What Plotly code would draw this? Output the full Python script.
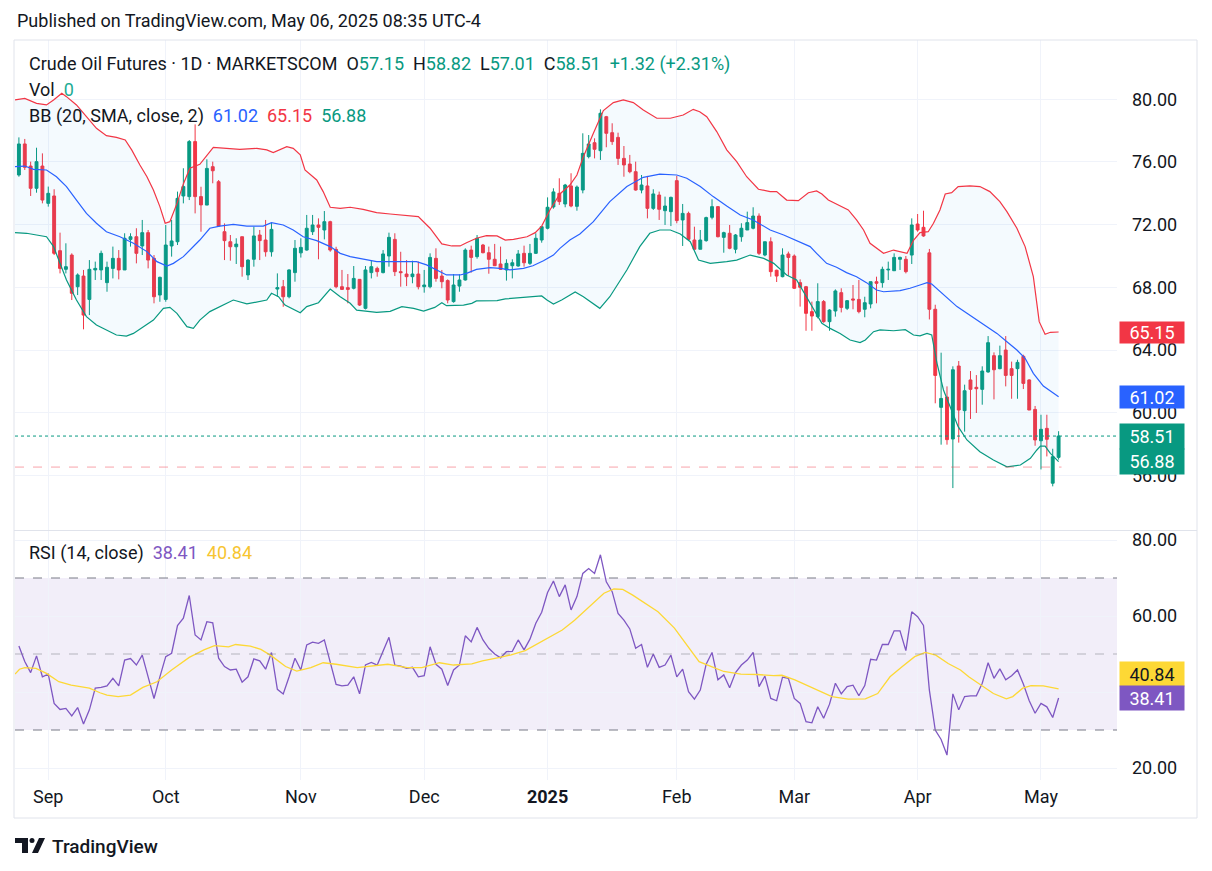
import plotly.graph_objects as go

# ---------------- DATA ----------------
# bar index 0 .. 177 (daily bars, late Aug 2024 -> May 6 2025)
opens = [
    75.17, 77.15, 75.74, 74.32, 75.74, 73.36, 73.83, 70.34, 69.15, 70.06,
    68.04, 68.72, 67.23, 69.11, 69.11, 68.30, 69.21, 69.85, 69.11, 71.06,
    71.23, 70.64, 71.49, 69.85, 67.51, 67.23, 70.64, 70.91, 73.83, 73.79,
    77.30, 73.79, 73.25, 75.70, 74.74, 71.55, 70.91, 70.59, 71.23, 68.79,
    69.79, 71.34, 71.02, 70.27, 67.89, 68.04, 67.40, 68.94, 70.20, 70.38,
    71.55, 71.98, 71.66, 72.19, 70.42, 68.04, 67.98, 67.94, 68.51, 66.66,
    68.94, 69.21, 68.94, 70.00, 71.06, 69.00, 68.85, 68.68, 68.85, 68.04,
    68.04, 69.85, 68.72, 68.43, 67.09, 68.08, 68.47, 70.38, 69.96, 70.70,
    70.21, 69.79, 69.49, 69.11, 69.38, 69.36, 70.17, 69.53, 70.17, 71.02,
    71.77, 73.13, 74.00, 73.32, 74.47, 73.17, 74.21, 76.34, 77.23, 76.72,
    78.89, 77.87, 77.57, 76.23, 75.87, 75.38, 74.21, 74.47, 73.04, 73.89,
    72.89, 72.83, 74.81, 72.30, 72.72, 71.02, 70.43, 70.98, 72.47, 73.15,
    71.19, 71.45, 70.43, 71.23, 71.66, 71.77, 72.55, 70.06, 70.91, 69.09,
    68.68, 70.13, 70.00, 68.30, 68.04, 66.45, 66.13, 67.09, 65.81, 66.49,
    67.66, 66.66, 67.26, 67.23, 66.60, 66.94, 68.36, 68.30, 69.11, 69.06,
    69.79, 69.79, 70.06, 72.04, 71.83, 70.20, 66.60, 60.34, 61.00, 58.32,
    62.98, 60.13, 62.09, 61.62, 61.49, 62.60, 63.64, 62.81, 64.00, 62.81,
    62.81, 63.60, 62.09, 60.21, 58.21, 59.00, 55.50, 57.15,
]
highs = [
    77.57, 77.47, 76.02, 76.91, 76.55, 74.43, 74.26, 71.49, 70.81, 70.17,
    68.89, 69.11, 69.74, 69.64, 70.34, 69.64, 70.60, 70.38, 71.45, 71.45,
    71.77, 72.30, 71.66, 70.06, 68.68, 71.98, 72.30, 74.11, 75.60, 77.40,
    78.40, 74.42, 76.17, 76.02, 74.85, 72.08, 71.34, 71.13, 71.23, 69.79,
    71.87, 71.66, 72.30, 72.13, 68.89, 68.47, 69.15, 71.02, 71.13, 72.62,
    72.62, 72.40, 72.87, 72.25, 70.59, 69.11, 68.85, 69.36, 68.53, 69.36,
    69.74, 69.32, 70.38, 71.49, 71.45, 70.27, 69.74, 69.70, 69.64, 69.11,
    70.17, 70.49, 69.11, 68.51, 68.85, 68.83, 70.49, 70.66, 71.34, 70.77,
    70.60, 70.77, 70.60, 69.79, 69.79, 70.38, 70.66, 70.77, 71.45, 71.91,
    73.74, 74.32, 74.96, 74.60, 75.28, 74.50, 77.83, 77.72, 77.51, 79.36,
    78.94, 78.47, 77.87, 77.02, 76.45, 76.02, 75.17, 75.11, 74.26, 74.11,
    73.79, 73.79, 75.11, 73.32, 72.83, 71.87, 71.66, 72.51, 73.62, 73.19,
    71.55, 71.98, 71.40, 72.09, 72.83, 73.11, 72.72, 70.91, 71.19, 69.13,
    70.49, 70.28, 70.10, 68.51, 68.09, 67.09, 68.26, 67.19, 66.60, 67.87,
    67.94, 67.19, 68.15, 68.47, 67.40, 68.36, 68.68, 69.32, 69.64, 70.17,
    69.96, 70.00, 72.40, 72.68, 72.89, 70.45, 66.89, 63.83, 61.68, 62.96,
    63.30, 61.79, 62.66, 62.40, 62.96, 64.89, 63.85, 64.28, 64.89, 63.26,
    63.38, 63.70, 62.13, 60.43, 59.87, 59.87, 57.70, 58.82,
]
lows = [
    75.06, 75.49, 73.83, 74.04, 73.36, 73.15, 70.06, 68.89, 68.89, 67.19,
    67.51, 65.32, 66.23, 68.47, 68.47, 67.72, 68.57, 68.51, 69.11, 70.60,
    69.53, 70.06, 69.21, 66.98, 67.08, 67.08, 69.96, 70.70, 73.36, 73.57,
    72.72, 71.55, 73.25, 74.64, 71.87, 69.74, 69.70, 69.49, 68.68, 68.47,
    69.32, 69.74, 69.96, 69.96, 67.40, 66.76, 67.30, 68.36, 69.90, 70.34,
    71.34, 69.79, 71.06, 70.27, 67.94, 67.83, 66.98, 67.87, 66.81, 66.59,
    68.57, 68.68, 68.89, 69.32, 68.72, 68.04, 68.08, 68.26, 67.87, 67.66,
    67.94, 68.36, 67.94, 66.98, 67.02, 67.72, 68.43, 68.94, 69.83, 70.17,
    68.87, 69.36, 69.11, 68.43, 68.57, 69.32, 69.32, 69.43, 70.13, 70.85,
    71.70, 73.02, 73.26, 73.11, 73.11, 72.89, 74.00, 76.23, 76.23, 76.13,
    76.94, 77.09, 75.81, 75.06, 75.28, 74.17, 74.00, 72.40, 72.94, 72.30,
    71.98, 71.91, 72.09, 70.64, 70.98, 70.43, 70.43, 70.91, 72.34, 71.19,
    70.21, 70.43, 70.17, 70.91, 71.66, 71.70, 70.06, 69.98, 68.68, 68.34,
    68.64, 68.74, 67.90, 66.77, 65.23, 65.23, 66.02, 65.74, 65.23, 66.13,
    66.40, 66.55, 66.60, 66.34, 66.09, 66.66, 66.98, 67.98, 68.47, 69.06,
    69.11, 68.89, 69.49, 71.55, 71.23, 65.95, 60.60, 57.96, 57.96, 55.19,
    58.09, 58.79, 59.60, 59.98, 60.51, 62.55, 60.85, 62.77, 61.68, 60.89,
    60.89, 61.51, 60.17, 57.89, 56.38, 57.21, 55.30, 57.01,
]
closes = [
    77.15, 75.66, 74.32, 76.02, 73.57, 74.00, 70.17, 69.21, 69.32, 67.62,
    68.79, 66.23, 69.15, 69.21, 70.17, 69.28, 69.85, 69.11, 71.13, 71.23,
    70.17, 71.49, 69.74, 67.40, 68.64, 70.70, 70.96, 73.68, 74.43, 77.30,
    73.79, 73.26, 75.59, 75.44, 71.91, 70.98, 70.59, 70.76, 69.32, 69.74,
    71.28, 70.98, 70.27, 71.70, 67.98, 67.40, 69.11, 70.49, 70.55, 71.77,
    71.98, 71.83, 72.19, 70.38, 68.04, 67.87, 67.87, 68.57, 66.87, 69.11,
    69.32, 69.00, 70.13, 71.19, 69.00, 68.94, 68.68, 68.85, 68.04, 68.15,
    69.91, 68.57, 68.36, 67.19, 68.15, 68.47, 70.38, 69.91, 71.13, 70.21,
    69.79, 69.38, 69.15, 69.53, 69.57, 70.13, 69.57, 70.17, 71.13, 71.87,
    73.11, 74.09, 73.47, 74.53, 73.19, 74.40, 76.55, 77.15, 76.81, 79.11,
    77.83, 77.30, 76.23, 75.81, 75.38, 74.21, 74.53, 73.04, 73.96, 72.98,
    73.19, 73.74, 72.26, 72.72, 71.06, 70.43, 71.02, 72.45, 73.15, 71.23,
    71.49, 70.49, 71.34, 71.77, 72.13, 72.55, 70.17, 70.91, 69.00, 68.72,
    70.06, 69.91, 67.94, 68.00, 66.34, 66.17, 67.09, 65.81, 66.55, 67.77,
    66.72, 67.15, 67.19, 66.45, 67.02, 68.36, 68.26, 69.15, 69.15, 69.91,
    69.91, 69.00, 71.98, 71.66, 71.28, 66.60, 62.38, 60.91, 58.28, 62.74,
    60.17, 61.40, 61.49, 61.53, 62.66, 64.47, 62.74, 63.64, 62.38, 62.38,
    63.21, 61.87, 60.17, 58.26, 58.94, 58.30, 57.19, 58.51,
]

# time-axis labels (bar index of first bar of each month)
month_ticks = [5, 25, 48, 69, 90, 112, 132, 153, 174]
month_labels = ["Sep", "Oct", "Nov", "Dec", "<b>2025</b>", "Feb", "Mar", "Apr", "May"]

# Bollinger bands (20, SMA, close, 2) read as (bar position, value)
bb_upper_pts = [(-0.66, 79.96), (1.0, 80.06), (3.0, 79.74), (4.7, 79.64), (5.9, 79.96), (7.3, 80.38), (8.1, 80.17), (9.8, 79.64), (11.5, 78.89), (13.2, 78.15), (14.9, 77.68), (16.6, 77.57), (18.1, 77.4), (19.2, 76.77), (20.6, 75.81), (21.8, 75.06), (22.9, 74.21), (24.0, 73.15), (24.9, 72.09), (25.7, 72.19), (26.9, 73.34), (28.0, 74.6), (29.1, 75.6), (30.8, 75.85), (33.1, 76.93), (34.8, 76.87), (37.6, 76.81), (40.5, 76.87), (42.2, 76.77), (43.3, 76.6), (45.6, 76.98), (46.7, 76.87), (47.9, 76.45), (48.7, 75.49), (50.7, 74.85), (51.8, 74.11), (53.0, 73.11), (54.7, 73.04), (56.4, 73.11), (58.6, 72.98), (60.9, 72.77), (63.2, 72.68), (64.9, 72.62), (68.0, 72.51), (70.0, 71.77), (72.0, 70.77), (73.7, 70.64), (75.1, 70.64), (76.2, 70.85), (77.9, 71.13), (79.6, 71.3), (81.4, 71.28), (82.8, 71.02), (84.2, 71.06), (86.5, 71.23), (87.9, 71.49), (89.0, 71.91), (90.4, 72.94), (92.1, 73.96), (93.8, 74.53), (95.0, 75.17), (96.1, 76.34), (97.8, 77.83), (99.5, 79.28), (101.2, 79.79), (102.9, 79.96), (104.6, 79.79), (106.3, 79.32), (108.6, 78.79), (110.9, 78.79), (113.1, 79.0), (114.8, 79.36), (115.9, 79.21), (117.1, 78.89), (118.8, 77.94), (120.5, 76.77), (122.2, 76.02), (123.9, 75.06), (125.9, 74.26), (127.9, 74.11), (129.0, 74.11), (130.7, 73.57), (132.7, 73.53), (134.4, 74.04), (135.8, 74.15), (136.7, 73.96), (137.8, 73.57), (139.8, 73.19), (141.2, 72.94), (142.6, 72.3), (143.8, 71.66), (144.9, 70.81), (146.0, 70.49), (147.2, 70.17), (148.9, 70.38), (150.0, 70.28), (151.2, 70.17), (152.3, 71.0), (153.4, 71.49), (154.8, 71.55), (155.7, 72.09), (156.8, 72.94), (157.7, 73.96), (158.8, 74.04), (159.9, 74.43), (161.9, 74.47), (163.6, 74.43), (165.3, 74.11), (167.0, 73.47), (168.2, 72.83), (169.9, 71.77), (171.3, 70.6), (172.7, 68.68), (173.7, 65.81), (174.7, 65.0), (175.6, 65.13), (177.0, 65.15)]
bb_mid_pts = [(-0.66, 75.7), (1.0, 75.74), (2.5, 75.53), (4.7, 75.49), (6.4, 75.06), (8.1, 74.43), (9.8, 73.57), (11.5, 72.72), (13.2, 72.09), (14.9, 71.55), (17.2, 71.23), (19.5, 70.81), (21.8, 70.28), (23.5, 69.64), (25.2, 69.36), (26.3, 69.53), (28.0, 69.96), (29.4, 70.5), (30.8, 71.02), (32.5, 71.77), (34.2, 71.91), (36.5, 72.02), (38.8, 71.91), (41.6, 71.91), (43.0, 72.13), (45.0, 71.98), (46.7, 71.66), (48.4, 71.23), (50.7, 70.98), (53.0, 70.6), (54.7, 70.17), (56.4, 69.96), (58.6, 69.79), (60.9, 69.64), (63.2, 69.64), (65.5, 69.64), (67.7, 69.64), (69.4, 69.43), (71.1, 69.11), (72.8, 68.79), (75.1, 68.79), (76.2, 68.89), (77.9, 69.15), (80.2, 69.26), (81.9, 69.21), (83.6, 69.11), (85.9, 69.21), (87.5, 69.38), (89.3, 69.7), (91.0, 70.06), (92.1, 70.49), (93.8, 71.02), (95.5, 71.4), (97.8, 72.19), (100.6, 73.47), (103.5, 74.43), (106.3, 75.02), (109.1, 75.23), (112.0, 75.17), (113.7, 74.96), (116.0, 74.43), (118.2, 73.79), (120.5, 73.19), (122.8, 72.62), (125.0, 72.3), (127.9, 71.66), (130.2, 71.34), (132.4, 70.98), (134.7, 70.6), (135.8, 70.17), (137.5, 69.53), (139.2, 69.28), (140.9, 68.94), (142.6, 68.68), (144.3, 68.3), (146.0, 67.83), (147.2, 67.72), (150.0, 67.79), (151.7, 67.94), (153.4, 68.15), (154.6, 68.3), (155.4, 68.21), (157.4, 67.51), (159.7, 66.77), (161.4, 66.34), (164.2, 65.66), (166.5, 65.06), (168.2, 64.53), (169.9, 64.0), (171.3, 63.47), (172.7, 62.51), (174.4, 61.7), (177.0, 61.02)]
bb_lower_pts = [(-0.66, 71.49), (1.3, 71.45), (3.0, 71.34), (4.7, 71.23), (5.9, 70.6), (7.0, 69.53), (8.1, 68.47), (9.8, 67.19), (11.5, 66.13), (13.2, 65.6), (14.9, 65.28), (16.6, 64.96), (18.3, 64.89), (19.5, 65.06), (21.2, 65.49), (22.9, 65.91), (24.6, 66.66), (25.7, 66.72), (26.9, 66.34), (28.6, 65.49), (29.7, 65.38), (30.8, 65.91), (32.5, 66.45), (34.8, 66.87), (36.5, 67.19), (38.8, 66.94), (41.05, 67.09), (42.2, 67.19), (43.0, 67.62), (44.2, 67.4), (45.3, 66.87), (47.9, 66.38), (49.0, 66.77), (51.0, 67.02), (53.0, 67.89), (54.7, 67.4), (56.4, 66.98), (57.5, 66.55), (60.9, 66.4), (63.2, 66.47), (65.2, 66.77), (67.2, 66.66), (68.9, 66.49), (70.8, 66.72), (72.0, 67.02), (72.8, 66.83), (75.7, 66.87), (77.1, 66.98), (77.9, 67.13), (81.4, 67.15), (82.8, 67.26), (85.3, 67.34), (87.6, 67.4), (89.0, 67.45), (89.9, 67.19), (91.0, 66.94), (92.4, 67.19), (93.8, 67.51), (94.7, 67.7), (96.1, 67.4), (98.9, 66.66), (100.6, 67.4), (103.5, 69.11), (105.7, 70.6), (107.4, 71.45), (109.1, 71.66), (110.9, 71.66), (112.6, 71.4), (114.3, 70.91), (115.7, 69.74), (117.7, 69.53), (120.5, 69.64), (122.2, 69.74), (124.5, 70.06), (126.8, 69.85), (128.5, 69.53), (130.7, 68.79), (132.4, 68.47), (134.1, 67.4), (135.8, 66.34), (136.7, 65.7), (138.1, 65.38), (139.8, 65.06), (141.5, 64.64), (143.2, 64.47), (144.1, 64.64), (145.5, 65.17), (146.6, 65.28), (148.9, 65.23), (150.9, 65.3), (152.3, 64.96), (153.4, 64.9), (154.6, 65.06), (155.4, 64.96), (156.3, 63.15), (157.4, 61.45), (158.5, 60.38), (159.9, 59.11), (161.4, 58.26), (163.6, 57.51), (165.9, 56.98), (168.2, 56.55), (170.5, 56.66), (172.2, 57.09), (173.3, 57.62), (173.9, 57.87), (174.7, 57.87), (175.6, 57.4), (177.0, 56.88)]

# RSI (14, close), one value per bar
rsi = [
    52.1, 48.0, 45.1, 49.5, 44.0, 44.7, 37.0, 35.4, 35.7, 33.7,
    35.9, 31.6, 35.3, 41.0, 41.2, 41.6, 43.6, 41.6, 48.4, 48.8,
    47.1, 49.7, 44.0, 38.3, 44.0, 49.3, 50.2, 57.5, 59.4, 65.4,
    55.0, 53.7, 58.5, 58.2, 48.9, 46.7, 45.8, 46.0, 42.6, 44.0,
    48.7, 48.2, 46.0, 50.4, 40.7, 39.5, 44.0, 48.9, 45.8, 52.4,
    53.1, 52.8, 53.7, 47.7, 42.0, 41.6, 41.8, 44.0, 39.5, 47.1,
    47.8, 47.1, 50.6, 54.4, 47.1, 46.8, 46.2, 46.5, 44.0, 44.3,
    51.9, 47.3, 46.0, 41.7, 45.8, 47.1, 54.8, 53.2, 57.0, 53.7,
    51.5, 50.0, 49.0, 50.6, 50.7, 53.7, 51.1, 53.9, 58.1, 61.0,
    66.2, 69.2, 65.1, 68.2, 61.6, 65.1, 71.2, 72.5, 71.2, 76.1,
    69.0, 66.4, 60.7, 58.9, 56.6, 51.5, 52.5, 46.5, 50.0, 46.5,
    47.1, 49.7, 44.0, 46.0, 40.1, 38.1, 40.5, 47.3, 50.4, 43.2,
    44.5, 41.1, 45.1, 47.1, 48.4, 50.4, 41.4, 44.2, 38.3, 37.7,
    43.9, 43.6, 38.3, 37.0, 32.2, 31.9, 36.1, 33.1, 36.8, 42.3,
    39.5, 41.4, 41.8, 39.0, 41.7, 48.6, 48.4, 52.5, 52.5, 56.1,
    56.1, 50.9, 61.1, 59.8, 57.5, 40.5, 30.0, 27.5, 23.4, 39.5,
    35.3, 38.8, 39.0, 39.0, 42.3, 47.7, 43.6, 46.1, 43.2, 44.3,
    45.8, 42.1, 37.7, 34.4, 37.0, 36.1, 33.3, 38.41,
]
# RSI-based moving average, read as (bar position, value)
rsi_ma_x = [-0.66, 0.1, 1.0, 2.9, 4.7, 6.8, 8.9, 12.0, 13.8, 15.0, 16.9, 19.0, 21.1, 23.5, 26.0, 29.0, 31.5, 33.3, 35.7, 36.9, 39.4, 41.2, 43.0, 45.4, 47.3, 49.7, 51.8, 54.0, 57.6, 60.0, 62.8, 66.1, 68.6, 71.6, 74.0, 77.1, 78.9, 81.9, 83.8, 86.2, 88.6, 90.4, 92.5, 94.6, 97.5, 99.6, 101.3, 102.8, 104.5, 107.0, 108.8, 111.6, 113.7, 115.8, 117.9, 120.0, 122.9, 125.7, 128.5, 129.9, 132.1, 135.6, 138.4, 141.2, 144.1, 146.2, 148.3, 150.4, 152.5, 154.3, 156.1, 158.2, 160.3, 161.7, 163.8, 165.9, 168.1, 169.2, 170.9, 172.3, 174.4, 177.0]
rsi_ma = [44.7, 46.0, 46.4, 46.2, 44.9, 42.7, 41.8, 41.0, 39.8, 39.2, 38.8, 39.2, 41.2, 42.7, 45.8, 49.1, 51.1, 52.2, 51.9, 52.5, 52.1, 51.2, 49.5, 46.7, 45.5, 46.4, 47.7, 47.3, 46.4, 46.9, 47.3, 46.4, 46.4, 47.7, 47.1, 47.4, 48.2, 49.1, 49.8, 50.9, 53.0, 54.5, 56.3, 58.9, 62.9, 66.0, 67.1, 67.0, 65.5, 62.9, 61.1, 56.8, 52.4, 48.0, 46.7, 45.4, 44.7, 44.6, 44.3, 44.4, 43.2, 40.7, 38.8, 38.1, 38.2, 39.6, 44.0, 46.7, 49.3, 50.4, 49.7, 47.5, 45.8, 44.0, 41.7, 39.6, 38.2, 38.8, 41.0, 41.7, 41.6, 40.84]

price_ticks = [56, 60, 64, 68, 72, 76, 80]
rsi_ticks = [20, 40, 60, 80]
rsi_tick_text = ["20.00", "", "60.00", "80.00"]   # 40.00 is hidden behind the value tags
session_line_level = 56.53

# ---------------- LAYOUT HELPERS ----------------
W, H = 1212, 871
ML, MR, MT, MB = 15, 95, 40, 91
PW, PH = W - ML - MR, H - MT - MB


def xp(px):
    return (px - ML) / PW


def yp(py):
    return (H - MB - py) / PH


UP = "#089981"
DOWN = "#f23645"
BLUE = "#2962ff"
PURPLE = "#7e57c2"
YELLOW = "#fdd835"
TEXT = "#131722"
GRID = "#f0f3fa"
FONT = "Roboto, 'Noto Sans', Arial, sans-serif"
FS = 18

bars = list(range(len(closes)))
ux, uy = zip(*bb_upper_pts)
mx, my = zip(*bb_mid_pts)
lx, ly = zip(*bb_lower_pts)

fig = go.Figure()

# BB background fill
fig.add_trace(go.Scatter(x=list(ux) + list(lx)[::-1], y=list(uy) + list(ly)[::-1],
                         fill="toself", fillcolor="rgba(33,150,243,0.05)", mode="lines",
                         line=dict(width=0), yaxis="y2", hoverinfo="skip"))
fig.add_trace(go.Scatter(x=ux, y=uy, mode="lines", line=dict(color=DOWN, width=1.2), yaxis="y2"))
fig.add_trace(go.Scatter(x=mx, y=my, mode="lines", line=dict(color=BLUE, width=1.2), yaxis="y2"))
fig.add_trace(go.Scatter(x=lx, y=ly, mode="lines", line=dict(color=UP, width=1.2), yaxis="y2"))

fig.add_trace(go.Candlestick(
    x=bars, open=opens, high=highs, low=lows, close=closes, yaxis="y2",
    increasing=dict(line=dict(color=UP, width=1), fillcolor=UP),
    decreasing=dict(line=dict(color=DOWN, width=1), fillcolor=DOWN),
    whiskerwidth=0))

# RSI pane
fig.add_trace(go.Scatter(x=bars, y=rsi, mode="lines", line=dict(color=PURPLE, width=1.3), yaxis="y"))
fig.add_trace(go.Scatter(x=rsi_ma_x, y=rsi_ma, mode="lines", line=dict(color=YELLOW, width=1.3), yaxis="y"))

x_lo = (ML - 18.9) / 5.874
x_hi = (W - MR - 18.9) / 5.874
price_lo = 80 - (530 - 99.3) / 15.67
price_hi = 80 + (99.3 - 40) / 15.67
rsi_lo = 80 - (780 - 540) / 3.8
rsi_hi = 80 + (540 - 531) / 3.8

axis_font = dict(family=FONT, size=FS, color=TEXT)

fig.update_layout(
    width=W, height=H,
    margin=dict(l=ML, r=MR, t=MT, b=MB),
    paper_bgcolor="white", plot_bgcolor="white",
    showlegend=False, hovermode=False,
    xaxis=dict(range=[x_lo, x_hi], tickvals=month_ticks, ticktext=month_labels,
               showgrid=True, gridcolor=GRID, zeroline=False, showline=False,
               ticks="", tickfont=axis_font, rangeslider=dict(visible=False),
               anchor="y", fixedrange=True, ticklabelstandoff=4),
    yaxis=dict(domain=[0, yp(531)], range=[rsi_lo, rsi_hi], side="right",
               tickvals=rsi_ticks, ticktext=rsi_tick_text,
               showgrid=True, gridcolor=GRID, zeroline=False, showline=False,
               ticks="", tickfont=axis_font, ticklabelstandoff=14, anchor="x"),
    yaxis2=dict(domain=[yp(530), 1], range=[price_lo, price_hi], side="right",
                tickvals=price_ticks, ticktext=[f"{v:.2f}" for v in price_ticks],
                showgrid=True, gridcolor=GRID, zeroline=False, showline=False,
                ticks="", tickfont=axis_font, ticklabelstandoff=14, anchor="x"),
)

shapes = []
# RSI band
shapes.append(dict(type="rect", xref="paper", yref="y", x0=0, x1=1, y0=30, y1=70,
                   fillcolor="rgba(126,87,194,0.1)", line=dict(width=0), layer="below"))
for lvl, col in [(70, "#787b86"), (30, "#787b86"), (50, "rgba(120,123,134,0.5)")]:
    shapes.append(dict(type="line", xref="paper", yref="y", x0=0, x1=1, y0=lvl, y1=lvl,
                       line=dict(color=col, width=1, dash="dash")))
# last close dotted line
shapes.append(dict(type="line", xref="paper", yref="y2", x0=0, x1=1, y0=closes[-1], y1=closes[-1],
                   line=dict(color=UP, width=1, dash="dot")))
# session line
shapes.append(dict(type="line", xref="x", yref="y2", x0=x_lo, x1=len(closes) - 0.5,
                   y0=session_line_level, y1=session_line_level,
                   line=dict(color="rgba(242,54,69,0.45)", width=1, dash="dash")))
# pane separator and frame
shapes.append(dict(type="line", xref="paper", yref="paper", x0=xp(14), x1=xp(1197), y0=yp(530.5), y1=yp(530.5),
                   line=dict(color="#e0e3eb", width=1)))
shapes.append(dict(type="rect", xref="paper", yref="paper", x0=xp(14), x1=xp(1197), y0=yp(818), y1=yp(40),
                   line=dict(color="#e0e3eb", width=1), fillcolor="rgba(0,0,0,0)"))
# TradingView logo
shapes.append(dict(type="path", xref="paper", yref="paper",
                   path=f"M {xp(15)} {yp(838)} L {xp(28)} {yp(838)} L {xp(28)} {yp(853)} L {xp(22)} {yp(853)} "
                        f"L {xp(22)} {yp(843)} L {xp(15)} {yp(843)} Z",
                   fillcolor=TEXT, line=dict(width=0)))
shapes.append(dict(type="circle", xref="paper", yref="paper", x0=xp(29.5), x1=xp(34.5), y0=yp(843), y1=yp(838),
                   fillcolor=TEXT, line=dict(width=0)))
shapes.append(dict(type="path", xref="paper", yref="paper",
                   path=f"M {xp(32)} {yp(853)} L {xp(38)} {yp(853)} L {xp(45)} {yp(838)} L {xp(39)} {yp(838)} Z",
                   fillcolor=TEXT, line=dict(width=0)))
fig.update_layout(shapes=shapes)

NB = "\u00a0"


def col(txt, c):
    return f"<span style='color:{c}'>{txt}</span>"


chg = closes[-1] - closes[-2]
pct = chg / closes[-2] * 100
line1 = ("Crude Oil Futures · 1D · MARKETSCOM" + NB * 2 +
         "O" + col(f"{opens[-1]:.2f}", UP) + NB * 2 +
         "H" + col(f"{highs[-1]:.2f}", UP) + NB * 2 +
         "L" + col(f"{lows[-1]:.2f}", UP) + NB * 2 +
         "C" + col(f"{closes[-1]:.2f}", UP) + NB * 2 +
         col(f"{chg:+.2f} ({pct:+.2f}%)", UP))
line2 = "Vol" + NB * 2 + col("0", "#22ab94")
line3 = ("BB (20, SMA, close, 2)" + NB * 2 + col(f"{my[-1]:.2f}", BLUE) + NB * 2 +
         col(f"{uy[-1]:.2f}", DOWN) + NB * 2 + col(f"{ly[-1]:.2f}", UP))
line4 = ("RSI (14, close)" + NB * 2 + col(f"{rsi[-1]:.2f}", PURPLE) + NB * 2 +
         col(f"{rsi_ma[-1]:.2f}", "#f7c531"))

ann = []
leg_font = dict(family=FONT, size=FS, color=TEXT)
ann.append(dict(text="Published on TradingView.com, May 06, 2025 08:35 UTC-4", x=xp(15), y=yp(20),
                xref="paper", yref="paper", xanchor="left", yanchor="middle", showarrow=False,
                font=dict(family=FONT, size=FS, color=TEXT)))
for txt, py in [(line1, 64), (line2, 89), (line3, 116), (line4, 553)]:
    ann.append(dict(text=txt, x=xp(27), y=yp(py), xref="paper", yref="paper", xanchor="left",
                    yanchor="middle", showarrow=False, font=leg_font))
ann.append(dict(text="TradingView", x=xp(50), y=yp(846), xref="paper", yref="paper", xanchor="left",
                yanchor="middle", showarrow=False, font=dict(family=FONT, size=19, color=TEXT, weight=500)))

# right-side value tags
tag_x = xp(1119)
for val, bg, fg, yv, h in [
    (uy[-1], DOWN, "white", uy[-1], 21),
    (my[-1], BLUE, "white", my[-1], 22),
    (closes[-1], UP, "white", closes[-1], 25),
    (ly[-1], UP, "white", ly[-1], 25),
]:
    ann.append(dict(text=f"{val:.2f}", x=tag_x, y=yv, xref="paper", yref="y2", xanchor="left",
                    yanchor="middle", showarrow=False, bgcolor=bg, width=64, height=h, borderpad=0,
                    font=dict(family=FONT, size=FS, color=fg)))
ann.append(dict(text=f"{rsi_ma[-1]:.2f}", x=tag_x, y=yp(674), xref="paper", yref="paper", xanchor="left",
                yanchor="middle", showarrow=False, bgcolor=YELLOW, width=64, height=24, borderpad=0,
                font=dict(family=FONT, size=FS, color=TEXT)))
ann.append(dict(text=f"{rsi[-1]:.2f}", x=tag_x, y=yp(698), xref="paper", yref="paper", xanchor="left",
                yanchor="middle", showarrow=False, bgcolor=PURPLE, width=64, height=24, borderpad=0,
                font=dict(family=FONT, size=FS, color="white")))
fig.update_layout(annotations=ann)

fig.write_html("out.html", config={"displayModeBar": False},
               post_script="document.body.style.margin='0px';")
